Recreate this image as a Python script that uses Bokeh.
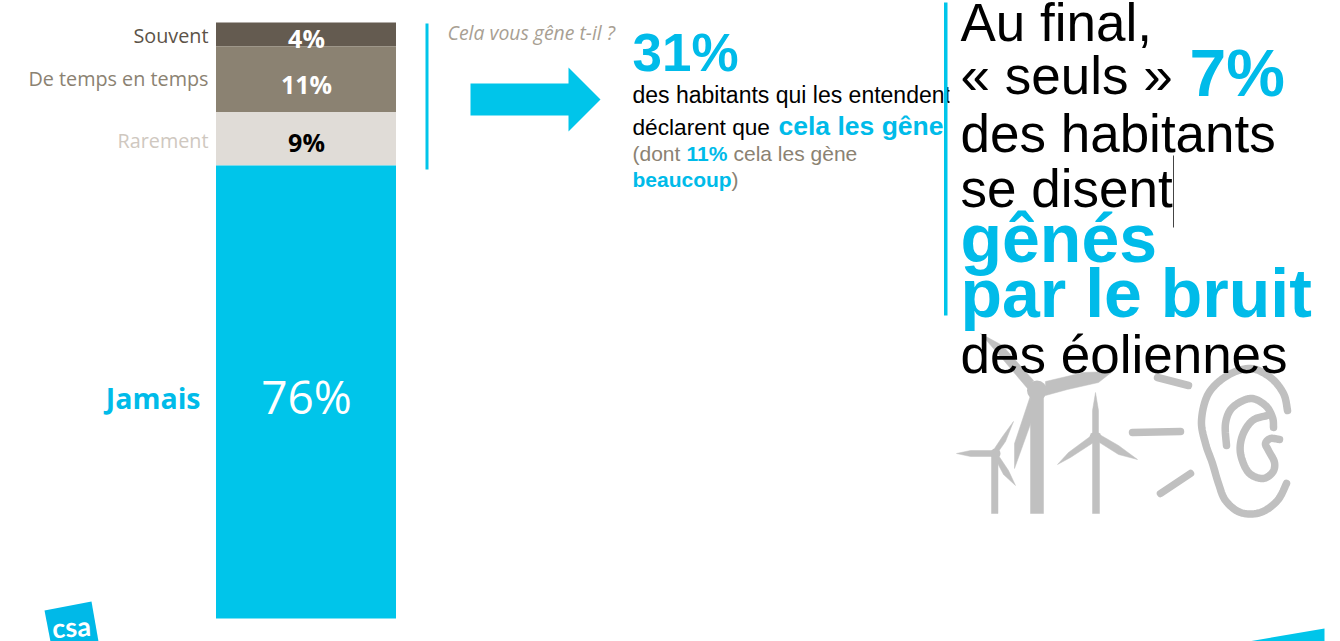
from bokeh.embed import file_html
from bokeh.models import Range1d
from bokeh.plotting import figure
from bokeh.resources import INLINE
from bokeh.core.properties import value
import numpy as np

# Survey answers, top of the stack first
answers = ["Souvent", "De temps en temps", "Rarement", "Jamais"]
shares = [4, 11, 9, 76]
bar_colors = ["#645B50", "#8B8272", "#E0DCD7", "#00C5EA"]
answer_colors = ["#5C5348", "#8B8272", "#CFC8C0", "#00BBE9"]
share_colors = ["white", "white", "black", "white"]

BLUE = "#00BBE9"
LINE_BLUE = "#00C5EA"
GREY = "#8B8272"
ICON = "#C0C0C0"
SANS = "Liberation Sans"
LABEL = "Open Sans"

W, H = 1340, 641
BAR_TOP, BAR_BOTTOM = 22, 618
per_unit = (BAR_BOTTOM - BAR_TOP) / 100
# Raises a text so that the given y is where its letters sit
BASELINE_SHIFT = 0.37

p = figure(width=W, height=H, output_backend="svg", toolbar_location=None,
           x_range=Range1d(0, W), y_range=Range1d(H, 0),
           min_border=0, outline_line_color=None, background_fill_color="white")
p.axis.visible = False
p.grid.visible = False
p.xaxis.visible = False
p.yaxis.visible = False
# Stacked shares have their own scale, 0 at the foot of the bar and 100 at its head
p.extra_y_ranges["share"] = Range1d((BAR_BOTTOM - H) / per_unit, BAR_BOTTOM / per_unit)


def label(x, y, text, size, color="black", font=SANS, style="normal", align="left", angle=0):
    p.text([x], [y - BASELINE_SHIFT * size], text=[text], text_font=value(font), text_font_size=f"{size}px",
           text_font_style=style, text_color=color, text_align=align,
           text_baseline="alphabetic", angle=angle)


# Wind turbines and ear pictogram, bottom right
def smooth(pts, n=10):
    pts = np.asarray(pts, float)
    q = np.vstack([pts[0], pts, pts[-1]])
    out = []
    for i in range(1, len(q) - 2):
        for t in np.linspace(0, 1, n, endpoint=False):
            out.append(0.5 * (2 * q[i] + (q[i + 1] - q[i - 1]) * t
                              + (2 * q[i - 1] - 5 * q[i] + 4 * q[i + 1] - q[i + 2]) * t ** 2
                              + (3 * q[i] - q[i - 1] - 3 * q[i + 1] + q[i + 2]) * t ** 3))
    out.append(pts[-1])
    return np.array(out)


turbine_shapes = [
    [(1030, 513), (1043, 513), (1043, 395), (1030, 395)],
    [(980, 333), (1002, 345), (1033, 380), (1027, 388), (1005, 362)],
    [(1045, 381), (1083, 372), (1112, 371), (1098, 382), (1067, 389), (1045, 395)],
    [(1030, 395), (1014, 443), (1014, 468), (1023, 443), (1032, 418)],
    [(991, 513), (997.5, 513), (997.5, 455), (991, 455)],
    [(956, 453), (970, 450), (992, 450), (992, 456), (970, 456)],
    [(1013, 421), (1005, 441), (998, 451), (994, 448), (1002, 436)],
    [(1015, 485), (1003, 474), (994, 457), (998, 455), (1008, 470)],
    [(1092, 513), (1099, 513), (1099, 440), (1092, 440)],
    [(1095, 392), (1098, 410), (1098, 432), (1092, 432), (1092, 410)],
    [(1057, 464), (1068, 452), (1091, 435), (1093, 442), (1070, 457)],
    [(1137, 459), (1118, 454), (1099, 442), (1099, 434), (1118, 445)],
]
p.patches([[a for a, _ in s] for s in turbine_shapes], [[b for _, b in s] for s in turbine_shapes],
          fill_color=ICON, line_color=ICON, line_width=0.5)
p.circle([1036.5, 995, 1095], [390, 453, 437], radius=[10, 5, 6], fill_color=ICON, line_color=None)

sound_marks = [[(1157, 377), (1188, 385)], [(1132, 432), (1180, 431)], [(1160, 493), (1190, 473)]]
for m in sound_marks:
    p.line([a for a, _ in m], [b for _, b in m], line_color=ICON, line_width=7.5, line_cap="round")

ear_strokes = [
    [(1287, 410), (1283, 393), (1270, 377), (1250, 368), (1227, 375), (1208, 393), (1201, 420), (1205, 443),
     (1212, 463), (1218, 483), (1225, 500), (1240, 512), (1260, 512), (1277, 500), (1286, 483)],
    [(1226, 445), (1225, 423), (1232, 407), (1250, 398), (1265, 405), (1272, 417), (1273, 427)],
    [(1267, 415), (1252, 420), (1242, 435), (1240, 453), (1248, 472), (1262, 478), (1272, 472), (1274, 462),
     (1268, 450), (1265, 443), (1270, 438), (1279, 439)],
]
for stroke in ear_strokes:
    c = smooth(stroke)
    p.line(c[:, 0], c[:, 1], line_color=ICON, line_width=7.5, line_cap="round", line_join="round")

# Stacked bar
tops = 100 - np.cumsum([0] + shares[:-1])
bottoms = tops - np.array(shares)
p.vbar(x=[305.5] * 4, width=180, top=tops.tolist(), bottom=bottoms.tolist(), fill_color=bar_colors,
       line_color=None, y_range_name="share")

# Answer names and shares
label(208, 42, answers[0], 19.8, answer_colors[0], LABEL, align="right")
label(208, 85, answers[1], 19.8, answer_colors[1], LABEL, align="right")
label(208, 147, answers[2], 19.8, answer_colors[2], LABEL, align="right")
label(200, 408, answers[3], 28.5, answer_colors[3], LABEL, "bold", "right")
label(306, 47, f"{shares[0]}%", 25, share_colors[0], LABEL, "bold", "center")
label(306, 93, f"{shares[1]}%", 25, share_colors[1], LABEL, "bold", "center")
label(306, 151, f"{shares[2]}%", 25, share_colors[2], LABEL, "bold", "center")
label(306, 413, f"{shares[3]}%", 46, share_colors[3], LABEL, "normal", "center")

# Question rule, question and arrow
p.quad(left=[425], right=[428], top=[23], bottom=[169], fill_color=LINE_BLUE, line_color=None)
label(447, 39, "Cela vous gêne t-il ?", 19.4, "#A89F93", LABEL, "italic")
p.patch([470, 568, 568, 600, 568, 568, 470], [83, 83, 67, 99, 131, 115, 115], fill_color=LINE_BLUE, line_color=None)

# Middle column
label(632, 72, "31%", 53, BLUE, SANS, "bold")
label(632, 103, "des habitants qui les entendent", 23, "black")
label(632, 135, "déclarent que", 22.7, "black")
label(778, 135, "cela les gêne", 26.5, BLUE, SANS, "bold")
label(632, 161, "(dont", 21, GREY)
label(686, 161, "11%", 21, BLUE, SANS, "bold")
label(733, 161, "cela les gène", 21, GREY)
label(632, 187, "beaucoup", 21, BLUE, SANS, "bold")
label(731, 187, ")", 21, GREY)

# The right-hand box hides whatever runs past its edge
p.quad(left=[949], right=[960], top=[80], bottom=[145], fill_color="white", line_color=None)
p.quad(left=[943.5], right=[947], top=[2], bottom=[315], fill_color=LINE_BLUE, line_color=None)

# Right column
label(960, 42, "Au final,", 53, "black")
label(960, 95, "« seuls »", 53, "black")
label(1189, 97, "7%", 66, BLUE, SANS, "bold")
label(960, 153, "des habitants", 53, "black")
label(960, 208, "se disent", 53, "black")
label(960, 263, "gênés", 68, BLUE, SANS, "bold")
label(960, 318, "par le bruit", 68, BLUE, SANS, "bold")
label(960, 374, "des éoliennes", 53, "black")
p.line([1173, 1173], [155, 227], line_color="#444444", line_width=1)

# Logo and corner wedge
p.patch([44, 91, 98, 50], [610, 601, 641, 641], fill_color="#00B9E8", line_color=None)
label(71, 636, "csa", 27, "white", "Lato", "bold", "center", angle=0.06)
p.patch([1248, 1324, 1324], [641, 628, 641], fill_color=LINE_BLUE, line_color=None)

open("out.html", "w").write(file_html(p, INLINE))
